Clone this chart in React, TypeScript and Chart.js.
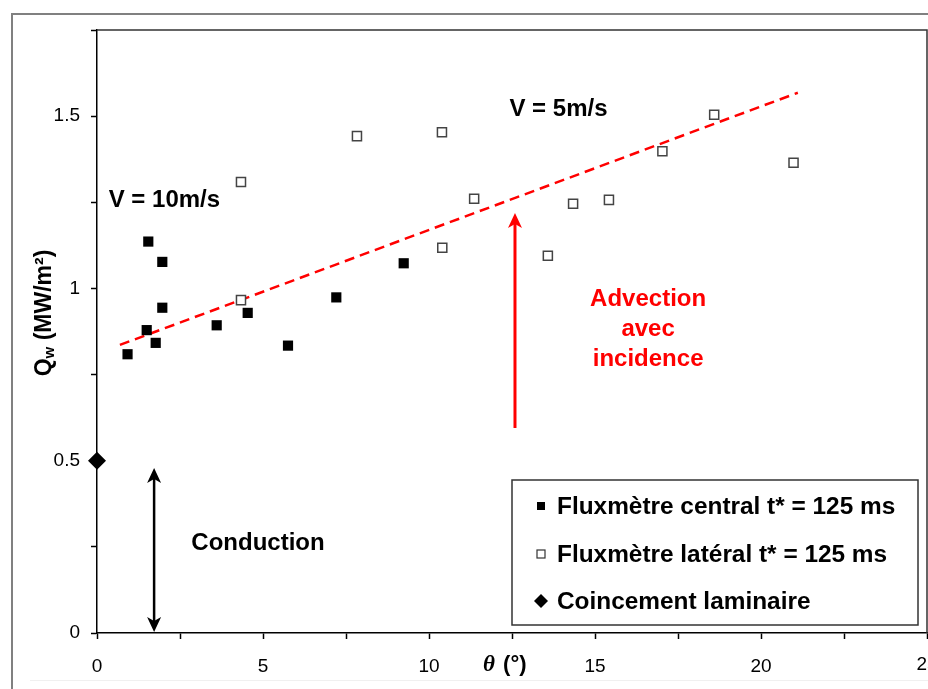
import React, { useEffect, useRef } from 'react';
import { Chart, registerables } from 'chart.js';

Chart.register(...registerables);

// ---- Data ----
const centralX = [0.92, 1.545, 1.967, 1.967, 1.497, 1.768, 3.605, 4.539, 5.753, 7.208, 9.238];
const centralY = [0.809, 1.136, 1.077, 0.944, 0.879, 0.842, 0.893, 0.929, 0.834, 0.974, 1.073];

const lateralX = [4.337, 4.337, 7.83, 10.39, 10.4, 11.36, 13.58, 14.34, 15.42, 17.03, 18.59, 20.98];
const lateralY = [1.309, 0.966, 1.442, 1.453, 1.118, 1.26, 1.095, 1.246, 1.257, 1.398, 1.504, 1.365];

const laminarX = [0];
const laminarY = [0.5];

const trendX = [0.69, 21.11];
const trendY = [0.836, 1.568];

const seriesLabels = [
  'Fluxmètre central t* = 125 ms',
  'Fluxmètre latéral t* = 125 ms',
  'Coincement laminaire',
];

const xMajorTicks = [0, 5, 10, 15, 20, 25];
const yMajorTicks = [0, 0.5, 1, 1.5];
const X_MAX = 25;

const annotationTexts = [
  { lines: ['V = 10m/s'], x: 2.03, y: 1.255, color: '#000000' },
  { lines: ['V = 5m/s'], x: 13.9, y: 1.521, color: '#000000' },
  { lines: ['Advection', 'avec', 'incidence'], x: 16.6, y: 0.88, color: '#ff0000' },
  { lines: ['Conduction'], x: 4.85, y: 0.261, color: '#000000' },
];

const annotationArrows = [
  { x: 12.59, y0: 0.595, y1: 1.219, color: '#ff0000', double: false, width: 3 },
  { x: 1.72, y0: 0.003, y1: 0.479, color: '#000000', double: true, width: 2.5 },
];

const SANS = '"Liberation Sans", Arial, sans-serif';
const TICK_FONT = { family: SANS, size: 19 };

const toPts = (xs: number[], ys: number[]) => xs.map((x, i) => ({ x, y: ys[i] }));

function drawHead(ctx: CanvasRenderingContext2D, x: number, tipY: number, dir: number, color: string) {
  const len = 15;
  const half = 7;
  ctx.fillStyle = color;
  ctx.beginPath();
  ctx.moveTo(x, tipY);
  ctx.lineTo(x - half, tipY - dir * len);
  ctx.lineTo(x, tipY - dir * (len - 4));
  ctx.lineTo(x + half, tipY - dir * len);
  ctx.closePath();
  ctx.fill();
}

const overlayPlugin = {
  id: 'overlay',
  afterDraw(chart: any) {
    const { ctx, chartArea: a, scales } = chart;
    const xs = scales.x;
    const ys = scales.y;
    ctx.save();

    // outer frame
    ctx.strokeStyle = '#808080';
    ctx.lineWidth = 2;
    ctx.strokeRect(12, 14, 1000, 1000);
    ctx.strokeStyle = '#f0f0f0';
    ctx.lineWidth = 1;
    ctx.beginPath();
    ctx.moveTo(30, 680.5);
    ctx.lineTo(928, 680.5);
    ctx.stroke();

    // plot area top/right border
    ctx.strokeStyle = '#333333';
    ctx.lineWidth = 1.5;
    ctx.beginPath();
    ctx.moveTo(a.left, a.top);
    ctx.lineTo(a.right, a.top);
    ctx.lineTo(a.right, a.bottom);
    ctx.stroke();

    // last x tick label (drawn here so it may run past the canvas edge like the reference)
    ctx.fillStyle = '#000';
    ctx.font = `${TICK_FONT.size}px ${SANS}`;
    ctx.textAlign = 'center';
    ctx.textBaseline = 'middle';
    ctx.fillText(String(X_MAX), xs.getPixelForValue(X_MAX), 665);

    // arrows
    for (const ar of annotationArrows) {
      const px = xs.getPixelForValue(ar.x);
      const pb = ys.getPixelForValue(ar.y0);
      const pt = ys.getPixelForValue(ar.y1);
      ctx.strokeStyle = ar.color;
      ctx.lineWidth = ar.width;
      ctx.beginPath();
      ctx.moveTo(px, ar.double ? pb - 10 : pb);
      ctx.lineTo(px, pt + 10);
      ctx.stroke();
      drawHead(ctx, px, pt, -1, ar.color);
      if (ar.double) drawHead(ctx, px, pb, 1, ar.color);
    }

    // annotation texts
    ctx.textAlign = 'center';
    ctx.textBaseline = 'middle';
    ctx.font = `bold 24px ${SANS}`;
    for (const t of annotationTexts) {
      const px = xs.getPixelForValue(t.x);
      const py = ys.getPixelForValue(t.y);
      const n = t.lines.length;
      ctx.fillStyle = t.color;
      t.lines.forEach((line, i) => {
        ctx.fillText(line, px, py + (i - (n - 1) / 2) * 30);
      });
    }

    // legend box
    const lx = 512, ly = 480, lw = 406, lh = 145;
    ctx.fillStyle = '#ffffff';
    ctx.fillRect(lx, ly, lw, lh);
    ctx.strokeStyle = '#333333';
    ctx.lineWidth = 1.5;
    ctx.strokeRect(lx, ly, lw, lh);
    const rowsY = [506, 554, 601];
    ctx.textAlign = 'left';
    ctx.textBaseline = 'middle';
    ctx.font = `bold 24.4px ${SANS}`;
    seriesLabels.forEach((lab, i) => {
      const cy = rowsY[i];
      const cx = 541;
      if (i === 0) {
        ctx.fillStyle = '#000';
        ctx.fillRect(cx - 4, cy - 4, 8, 8);
      } else if (i === 1) {
        ctx.fillStyle = '#fff';
        ctx.fillRect(cx - 4, cy - 4, 8, 8);
        ctx.strokeStyle = '#333';
        ctx.lineWidth = 1.2;
        ctx.strokeRect(cx - 4, cy - 4, 8, 8);
      } else {
        ctx.fillStyle = '#000';
        ctx.beginPath();
        ctx.moveTo(cx, cy - 7);
        ctx.lineTo(cx + 7, cy);
        ctx.lineTo(cx, cy + 7);
        ctx.lineTo(cx - 7, cy);
        ctx.closePath();
        ctx.fill();
      }
      ctx.fillStyle = '#000';
      ctx.fillText(lab, 557, cy + 1);
    });

    // x axis title: θ (°)
    const tx = 483;
    const ty = 665;
    ctx.textAlign = 'left';
    ctx.textBaseline = 'middle';
    ctx.fillStyle = '#000';
    ctx.font = `italic bold 23px "Liberation Serif", "DejaVu Serif", serif`;
    ctx.fillText('θ', tx, ty);
    const tw = ctx.measureText('θ').width;
    ctx.font = `bold 22px ${SANS}`;
    ctx.fillText(' (°)', tx + tw + 2, ty);

    // y axis title: Qw (MW/m²)
    ctx.save();
    ctx.translate(45, 313);
    ctx.rotate(-Math.PI / 2);
    const runs = [
      { t: 'Q', f: `bold 23px ${SANS}`, dy: 0 },
      { t: 'w', f: `bold 15px ${SANS}`, dy: 5 },
      { t: ' (MW/m', f: `bold 23px ${SANS}`, dy: 0 },
      { t: '²', f: `bold 23px ${SANS}`, dy: 0 },
      { t: ')', f: `bold 23px ${SANS}`, dy: 0 },
    ];
    let total = 0;
    const widths = runs.map((r) => {
      ctx.font = r.f;
      const w = ctx.measureText(r.t).width;
      total += w;
      return w;
    });
    let cx = -total / 2;
    ctx.textAlign = 'left';
    ctx.textBaseline = 'middle';
    runs.forEach((r, i) => {
      ctx.font = r.f;
      ctx.fillText(r.t, cx, r.dy);
      cx += widths[i];
    });
    ctx.restore();

    ctx.restore();
  },
};

export default function App() {
  const ref = useRef<HTMLCanvasElement>(null);

  useEffect(() => {
    document.body.style.margin = '0';
    const canvas = ref.current!;
    const chart = new Chart(canvas, {
      type: 'scatter',
      data: {
        datasets: [
          {
            label: seriesLabels[0],
            data: toPts(centralX, centralY),
            pointStyle: 'rect',
            pointRadius: 7.2,
            backgroundColor: '#000000',
            borderColor: '#000000',
            borderWidth: 0,
          },
          {
            label: seriesLabels[1],
            data: toPts(lateralX, lateralY),
            pointStyle: 'rect',
            pointRadius: 6.4,
            backgroundColor: '#ffffff',
            borderColor: '#444444',
            borderWidth: 1.5,
          },
          {
            label: seriesLabels[2],
            data: toPts(laminarX, laminarY),
            pointStyle: 'rectRot',
            pointRadius: 9,
            backgroundColor: '#000000',
            borderColor: '#000000',
            borderWidth: 0,
            clip: false,
          },
          {
            label: 'trend',
            data: toPts(trendX, trendY),
            showLine: true,
            borderColor: '#ff0000',
            borderWidth: 2.5,
            borderDash: [10, 6],
            pointRadius: 0,
            fill: false,
          },
        ],
      } as any,
      options: {
        animation: false,
        responsive: false,
        devicePixelRatio: 1,
        layout: { autoPadding: false, padding: { left: 0, top: 30, right: 1, bottom: 0 } },
        plugins: {
          legend: { display: false },
          tooltip: { enabled: false },
        },
        scales: {
          x: {
            type: 'linear',
            min: 0,
            max: X_MAX,
            border: { display: true, color: '#000000', width: 1.5 },
            grid: {
              display: true,
              drawOnChartArea: false,
              drawTicks: true,
              tickLength: 6,
              color: '#000000',
              tickWidth: 1.5,
            },
            ticks: {
              stepSize: 2.5,
              autoSkip: false,
              maxRotation: 0,
              padding: 16,
              color: '#000000',
              font: TICK_FONT,
              callback: (v: any) => {
                const n = Number(v);
                return xMajorTicks.includes(n) && n !== X_MAX ? String(n) : '';
              },
            },
            afterFit: (s: any) => {
              s.height = 56;
              s.paddingLeft = 0;
              s.paddingRight = 0;
            },
          },
          y: {
            type: 'linear',
            min: 0,
            max: 1.75,
            border: { display: true, color: '#000000', width: 1.5 },
            grid: {
              display: true,
              drawOnChartArea: false,
              drawTicks: true,
              tickLength: 6,
              color: '#000000',
              tickWidth: 1.5,
            },
            ticks: {
              stepSize: 0.25,
              autoSkip: false,
              padding: 11,
              color: '#000000',
              font: TICK_FONT,
              callback: (v: any) => (yMajorTicks.includes(Number(v)) ? String(v) : ''),
            },
            afterFit: (s: any) => {
              s.width = 97;
              s.paddingTop = 0;
              s.paddingBottom = 0;
            },
          },
        },
      } as any,
      plugins: [overlayPlugin],
    });
    return () => chart.destroy();
  }, []);

  return (
    <div style={{ position: 'absolute', left: 0, top: 0, width: 928, height: 689, background: '#ffffff' }}>
      <canvas ref={ref} width={928} height={689} style={{ display: 'block' }} />
    </div>
  );
}
